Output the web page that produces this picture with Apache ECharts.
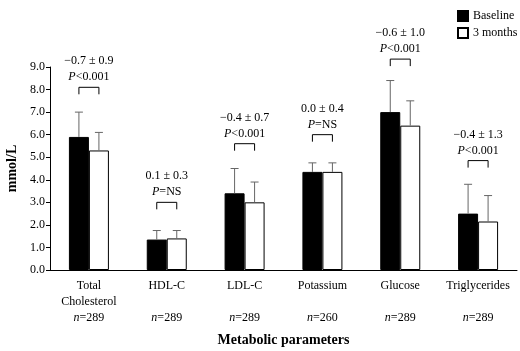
<!DOCTYPE html>
<html>
<head>
<meta charset="utf-8">
<script src="https://cdn.jsdelivr.net/npm/echarts@6/dist/echarts.min.js"></script>
<style>
  html, body { margin: 0; padding: 0; background: #fff; }
  #chart { width: 520px; height: 351px; }
</style>
</head>
<body>
<div id="chart"></div>
<script>
// 指标名称与样本量
const catNames = [['Total', 'Cholesterol'], ['HDL-C'], ['LDL-C'], ['Potassium'], ['Glucose'], ['Triglycerides']];
const nCounts = [289, 289, 289, 260, 289, 289];

// 均值与标准差 (mmol/L)
const baseline = [5.9, 1.35, 3.4, 4.35, 7.0, 2.5];
const baselineSd = [1.1, 0.4, 1.1, 0.4, 1.4, 1.3];
const threeMonths = [5.3, 1.4, 3.0, 4.35, 6.4, 2.15];
const threeMonthsSd = [0.8, 0.35, 0.9, 0.4, 1.1, 1.15];

// 变化量与 P 值标注
const diffLabels = ['\u22120.7 \u00b1 0.9', '0.1 \u00b1 0.3', '\u22120.4 \u00b1 0.7', '0.0 \u00b1 0.4', '\u22120.6 \u00b1 1.0', '\u22120.4 \u00b1 1.3'];
const pLabels = ['<0.001', '=NS', '<0.001', '=NS', '<0.001', '<0.001'];
const bracketLevel = [8.1, 3.0, 5.6, 6.0, 9.35, 4.85];

const yTicks = [0, 1, 2, 3, 4, 5, 6, 7, 8, 9];

const FONT = '"Liberation Serif", "DejaVu Serif", serif';
const BAR_W = 20;

const chart = echarts.init(document.getElementById('chart'));

// 误差线 (只画向上部分)
const errorSeries = (means, sds, offset) => ({
    type: 'custom',
    z: 5,
    data: means.map((m, i) => [i, m, m + sds[i]]),
    renderItem: (params, api) => {
        const p0 = api.coord([api.value(0), api.value(1)]);
        const p1 = api.coord([api.value(0), api.value(2)]);
        const x = p0[0] + offset;
        return {
            type: 'group',
            children: [
                { type: 'line', shape: { x1: x, y1: p0[1], x2: x, y2: p1[1] }, style: { stroke: '#666', lineWidth: 1 } },
                { type: 'line', shape: { x1: x - 4, y1: p1[1], x2: x + 4, y2: p1[1] }, style: { stroke: '#666', lineWidth: 1 } }
            ]
        };
    }
});

chart.setOption({
    animation: false,
    textStyle: { fontFamily: FONT },
    grid: { left: 50, right: 3, top: 67, bottom: 81, outerBoundsMode: 'none' },
    legend: {
        orient: 'vertical',
        left: 452,
        top: 5,
        itemWidth: 10,
        itemHeight: 10,
        itemGap: 5,
        icon: 'rect',
        textStyle: { fontFamily: FONT, fontSize: 12, color: '#000' },
        data: ['Baseline', '3 months']
    },
    xAxis: {
        type: 'category',
        data: catNames.map(c => c[0]),
        name: 'Metabolic parameters',
        nameLocation: 'middle',
        nameGap: 63,
        nameTextStyle: { fontFamily: FONT, fontSize: 14, fontWeight: 'bold', color: '#000' },
        axisLine: { lineStyle: { color: '#000', width: 1 } },
        axisTick: { length: 5, lineStyle: { color: '#000' } },
        axisLabel: {
            interval: 0,
            margin: 8,
            color: '#000',
            fontSize: 12,
            lineHeight: 16,
            fontFamily: FONT,
            formatter: (v, i) => {
                const c = catNames[i];
                const second = c.length > 1 ? c[1] : ' ';
                return c[0] + '\n' + second + '\n{n|n}=' + nCounts[i];
            },
            rich: { n: { fontStyle: 'italic', fontSize: 12, lineHeight: 16, fontFamily: FONT, color: '#000' } }
        }
    },
    yAxis: {
        type: 'value',
        min: yTicks[0],
        max: yTicks[yTicks.length - 1],
        interval: 1,
        name: 'mmol/L',
        nameLocation: 'middle',
        nameGap: 30,
        nameRotate: 90,
        nameTextStyle: { fontFamily: FONT, fontSize: 14, fontWeight: 'bold', color: '#000' },
        axisLine: { show: true, lineStyle: { color: '#000', width: 1 } },
        axisTick: { show: true, length: 4, lineStyle: { color: '#000' } },
        splitLine: { show: false },
        axisLabel: { color: '#000', fontSize: 12, margin: 5, fontFamily: FONT, formatter: v => v.toFixed(1) }
    },
    series: [
        {
            name: 'Baseline',
            type: 'bar',
            barWidth: BAR_W,
            barGap: 0,
            data: baseline,
            itemStyle: { color: '#000', borderColor: '#000', borderWidth: 1 }
        },
        {
            name: '3 months',
            type: 'bar',
            barWidth: BAR_W,
            barGap: 0,
            data: threeMonths,
            itemStyle: { color: '#fff', borderColor: '#000', borderWidth: 1 }
        },
        errorSeries(baseline, baselineSd, -BAR_W / 2),
        errorSeries(threeMonths, threeMonthsSd, BAR_W / 2),
        {
            // 括号与统计标注
            type: 'custom',
            z: 6,
            clip: false,
            data: bracketLevel.map((b, i) => [i, b]),
            renderItem: (params, api) => {
                const i = params.dataIndex;
                const p = api.coord([api.value(0), api.value(1)]);
                const xl = p[0] - BAR_W / 2, xr = p[0] + BAR_W / 2, y = p[1];
                return {
                    type: 'group',
                    children: [
                        {
                            type: 'polyline',
                            shape: { points: [[xl, y + 7], [xl, y], [xr, y], [xr, y + 7]] },
                            style: { stroke: '#000', lineWidth: 1, fill: null }
                        },
                        {
                            type: 'text',
                            x: p[0], y: y - 26,
                            style: { text: diffLabels[i], fontFamily: FONT, fontSize: 12, fill: '#000', align: 'center', verticalAlign: 'middle' }
                        },
                        {
                            type: 'text',
                            x: p[0], y: y - 10,
                            style: {
                                text: '{i|P}' + pLabels[i],
                                fontFamily: FONT, fontSize: 12, fill: '#000', align: 'center', verticalAlign: 'middle',
                                rich: { i: { fontStyle: 'italic', fontFamily: FONT, fontSize: 12, fill: '#000' } }
                            }
                        }
                    ]
                };
            }
        }
    ]
});

window.addEventListener('resize', () => chart.resize());
</script>
</body>
</html>
